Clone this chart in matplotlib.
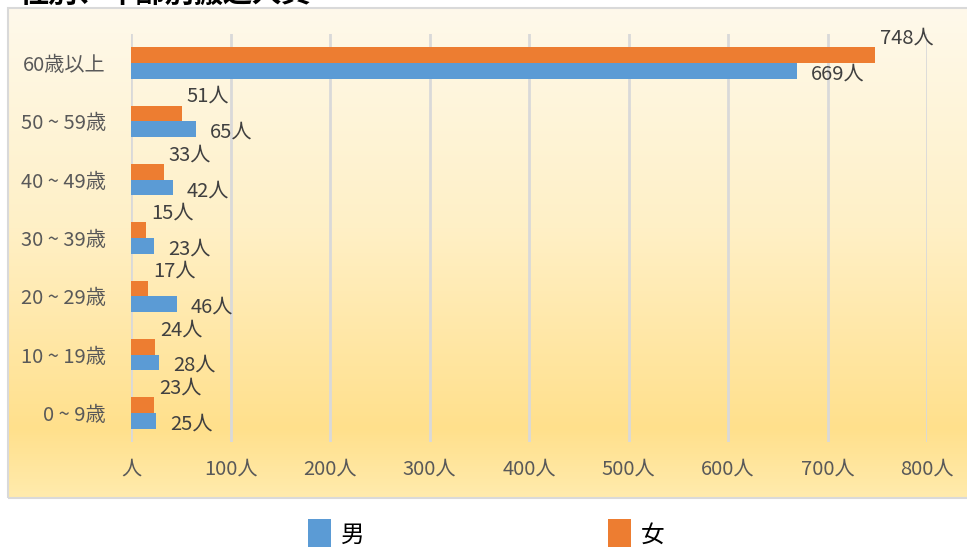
import numpy as np
import matplotlib
matplotlib.use('Agg')
import matplotlib.pyplot as plt
from matplotlib.colors import LinearSegmentedColormap
from matplotlib.patches import Rectangle

plt.rcParams['font.family'] = ['Noto Sans CJK JP', 'DejaVu Sans']

# data (bottom to top)
categories = ['0 ~ 9歳', '10 ~ 19歳', '20 ~ 29歳', '30 ~ 39歳', '40 ~ 49歳', '50 ~ 59歳', '60歳以上']
male = [25, 28, 46, 23, 42, 65, 669]
female = [23, 24, 17, 15, 33, 51, 748]
xticks = [0, 100, 200, 300, 400, 500, 600, 700, 800]
xticklabels = ['人' if t == 0 else '%d人' % t for t in xticks]

W, H = 967, 547
fig = plt.figure(figsize=(W / 100, H / 100), dpi=100)

# gradient chart area
bg = fig.add_axes([8 / W, 1 - 498 / H, 1.0, 490 / H])
cmap = LinearSegmentedColormap.from_list('bg', [(0, '#FEF9EB'), (0.45, '#FFF0C6'),
                                                (0.86, '#FFE08C'), (1.0, '#FFEBAD')])
grad = np.linspace(0, 1, 256).reshape(-1, 1)
bg.imshow(grad, aspect='auto', cmap=cmap, extent=[0, 1, 0, 1], origin='upper')
bg.set_xlim(0, 1)
bg.set_ylim(0, 1)
bg.axis('off')
fig.patches.append(Rectangle((8 / W, 1 - 498 / H), 1.0, 490 / H, transform=fig.transFigure,
                             fill=False, edgecolor='#D9D9D9', lw=1.5))

ax = fig.add_axes([131 / W, 1 - 442 / H, (927 - 131) / W, (442 - 34) / H])
ax.patch.set_alpha(0)

y = np.arange(len(categories))
h = 0.27
b_m = ax.barh(y - h / 2, male, height=h, color='#5B9BD5', label='男', zorder=3)
b_f = ax.barh(y + h / 2, female, height=h, color='#ED7D31', label='女', zorder=3)

for i in range(len(categories)):
    ax.annotate('%d人' % female[i], (female[i], y[i] + h / 2), xytext=(5, 17),
                textcoords='offset pixels', ha='left', va='center',
                fontsize=14.5, color='#404040')
    ax.annotate('%d人' % male[i], (male[i], y[i] - h / 2), xytext=(14, -3),
                textcoords='offset pixels', ha='left', va='center',
                fontsize=14.5, color='#404040')

ax.set_xlim(0, 800)
ax.set_ylim(-0.5, len(categories) - 0.5)
ax.set_xticks(xticks)
ax.set_xticklabels(xticklabels)
ax.set_yticks(y)
ax.set_yticklabels(categories)
ax.tick_params(axis='x', length=0, pad=12, labelsize=14.5, labelcolor='#595959')
ax.tick_params(axis='y', length=0, pad=18, labelsize=14.5, labelcolor='#595959')
ax.grid(axis='x', color='#D9D9D9', lw=2, zorder=0)
for s in ax.spines.values():
    s.set_visible(False)

fig.text(20 / W, 1.013, '性別、年齢別搬送人員', fontsize=21, fontweight='bold',
         color='black', ha='left', va='center')

fig.legend(handles=[b_m, b_f], labels=['男', '女'], loc='center',
           bbox_to_anchor=(486 / W, 1 - 534 / H), ncol=2, frameon=False,
           fontsize=17, handlelength=1.0, handleheight=1.6, handletextpad=0.4,
           columnspacing=10.3)

fig.savefig('out.png', dpi=100)
